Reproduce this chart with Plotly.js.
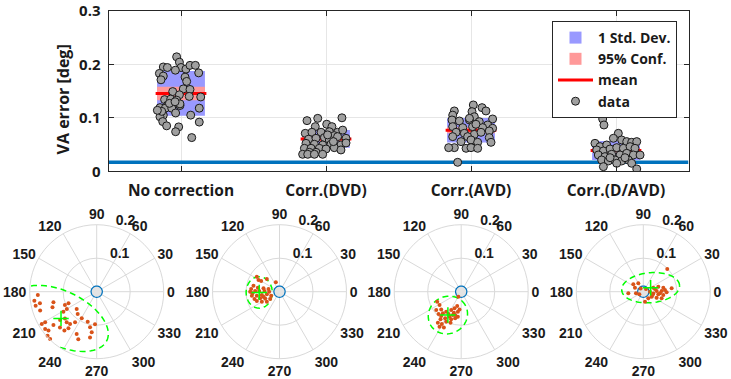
<!DOCTYPE html>
<html><head><meta charset="utf-8">
<script src="https://cdn.plot.ly/plotly-3.0.1.min.js"></script>
<style>html,body{margin:0;padding:0;background:#fff}</style>
</head><body><div id="chart" style="width:731px;height:379px"></div>
<script>
// ---------- top panel data ----------
const categories = ['No correction','Corr.(DVD)','Corr.(AVD)','Corr.(D/AVD)'];
const yTickVals = [0, 0.1, 0.2, 0.3];
const yTickText = ['0','0.1','0.2','0.3'];
const meanVals = [0.1455, 0.0605, 0.0768, 0.0390];
const stdVals  = [0.0418, 0.0165, 0.0230, 0.0178];
const confVals = [0.0125, 0.0045, 0.0055, 0.0045];
const threshold = 0.0168;

const vals1 = [0.214,0.204,0.194,0.195,0.194,0.189,0.191,0.198,0.198,0.184,0.183,0.178,0.171,0.176,0.168,0.154,0.153,0.149,0.143,0.140,0.139,0.134,0.135,0.133,0.124,0.123,0.123,0.119,0.118,0.118,0.126,0.118,0.105,0.109,0.105,0.102,0.093,0.085,0.083,0.074,0.092,0.063,0.127,0.130,0.112,0.114];
const jit1  = [-0.030,-0.011,0.000,-0.122,-0.094,-0.039,0.034,0.062,0.099,0.122,-0.149,-0.122,-0.138,0.028,0.039,0.016,0.062,-0.057,-0.011,0.057,0.136,-0.113,-0.071,-0.030,-0.092,-0.057,-0.007,-0.145,-0.108,-0.064,-0.007,0.126,-0.122,-0.037,0.067,-0.145,-0.126,-0.099,-0.016,-0.037,0.126,0.074,-0.080,-0.041,-0.133,-0.163];

const vals2 = [0.0947,0.099,0.100,0.0835,0.088,0.0835,0.071,0.073,0.073,0.074,0.073,0.077,0.0667,0.063,0.060,0.0617,0.0586,0.0648,0.0617,0.0523,0.0505,0.0492,0.0505,0.0492,0.043,0.043,0.043,0.0442,0.0399,0.0355,0.0355,0.0417,0.0318,0.0318,0.0318,0.0318,0.053,0.0555,0.068];
const jit2  = [-0.131,-0.057,0.110,-0.074,0.005,0.041,-0.143,-0.097,-0.034,0.023,0.080,0.115,0.057,-0.011,-0.120,-0.069,0.023,0.080,0.138,-0.138,-0.080,-0.023,0.034,0.103,-0.149,-0.103,-0.046,0.057,0.103,-0.115,-0.069,0.000,-0.161,-0.126,-0.080,-0.023,0.138,0.051,0.011];

const vals3 = [0.1128,0.105,0.124,0.1115,0.119,0.1128,0.102,0.0978,0.096,0.094,0.096,0.0928,0.0866,0.0835,0.0816,0.0835,0.0816,0.0804,0.0729,0.071,0.069,0.0729,0.0754,0.0648,0.0648,0.0586,0.063,0.0542,0.0542,0.0555,0.0442,0.0442,0.043,0.0442,0.043,0.0168,0.099,0.0879];
const jit3  = [-0.115,-0.126,0.016,0.007,0.076,0.103,0.023,0.149,-0.131,-0.080,-0.011,0.057,0.115,-0.126,-0.057,0.011,0.080,0.149,-0.103,-0.046,0.023,0.069,0.126,-0.126,-0.023,0.000,0.126,0.138,0.046,-0.069,-0.115,-0.154,-0.034,0.000,0.046,-0.092,-0.011,0.034];

const vals4 = [0.0978,0.0866,0.0523,0.0461,0.0492,0.071,0.0617,0.0586,0.0555,0.0542,0.0555,0.0399,0.038,0.0417,0.0442,0.043,0.0461,0.043,0.0305,0.0274,0.0318,0.0305,0.0336,0.0305,0.0305,0.0212,0.0193,0.0212,0.0193,0.0212,0.0087,0.015,0.015,0.0044,0.0255,0.0255];
const jit4  = [-0.092,-0.083,-0.145,-0.110,-0.064,0.016,-0.018,0.039,0.074,0.108,0.143,-0.133,-0.087,-0.041,0.005,0.051,0.097,0.131,-0.122,-0.076,-0.030,0.028,0.074,0.120,0.166,-0.099,-0.053,-0.007,0.039,0.085,-0.087,0.005,0.108,0.143,-0.041,0.062];

// ---------- polar panels data ----------
const angTickVals = [0,30,60,90,120,150,180,210,240,270,300,330];
const angTickText = ['0','30','60','90','120','150','180','210','240','270','300','330'];
const radTickVals = [0.1, 0.2];
const radTickText = ['0.1','0.2'];

const polR1 = [0.176,0.188,0.187,0.173,0.178,0.133,0.140,0.103,0.091,0.103,0.116,0.079,0.0875,0.091,0.124,0.138,0.128,0.125,0.112,0.138,0.153,0.163,0.179,0.190,0.190,0.185,0.197,0.198,0.151,0.140,0.152,0.108,0.122,0.138,0.097,0.0935];
const polT1 = [183.2,188.2,192.9,191.6,198.5,193.8,199.5,202.8,202.4,210,211,220.9,229.6,240.6,220.1,217.7,225.6,230.5,234.8,232.3,224.2,217.6,210.7,210.4,215.9,218.9,221.9,225.4,230.3,244.7,248.8,259.4,263,261.7,267,253.3];
const polR2 = [0.0812,0.0633,0.0535,0.030,0.0797,0.085,0.0658,0.0488,0.0338,0.0876,0.0727,0.0607,0.0448,0.0308,0.0834,0.0687,0.0537,0.0386,0.0276,0.0778,0.061,0.0472,0.0354,0.0732,0.0606,0.0482,0.0717,0.0807,0.05];
const polT2 = [146.5,149.8,135,111.4,167,174.6,169.5,168.2,166.4,180,178.4,178.1,177.5,180,188.2,190,190.7,191.9,205.6,196.3,199,205,218.2,202.4,209.5,218.3,151,183.5,197.4];
const polR3 = [0.0776,0.0759,0.0797,0.0925,0.095,0.0847,0.0746,0.0623,0.0536,0.0444,0.0605,0.074,0.0823,0.0928,0.1031,0.1158,0.1124,0.1001,0.0878,0.0816,0.0753,0.1184,0.1229,0.0766,0.0664,0.053,0.094,0.0979,0.0719,0.017];
const polT3 = [202.6,211.6,221.5,216.3,224.6,229.8,233.1,241.4,248.2,254.4,260.5,250.3,245,239,233.2,233,239.1,243.4,250.1,257.3,262.4,244.1,238.2,240.4,250.7,264.6,230.6,251,255.6,240];
const polR4 = [0.0985,0.037,0.029,0.0276,0.045,0.0127,0.0113,0.0321,0.0472,0.0609,0.0852,0.0399,0.0548,0.0697,0.0303,0.0455,0.0605,0.029,0.0437,0.0582,0.0249,0.0303,0.0143,0.0224,0.0357,0.05,0.0649,0.0199,0.0296];
const polT4 = [43.4,143.7,121,154.4,186.3,128.7,45,21.8,18.4,11.3,6.7,2.9,2.1,-1.6,-9.5,-10.1,-9.5,-31,-24.2,-20,-53.1,-80.5,213.7,192.8,12.9,-5.7,4.4,0,-19.7];

const meanR  = [0.133, 0.0606, 0.0802, 0.0249];
const meanT  = [216.8, 182, 240.3, 28.6];
const ellA   = [0.152, 0.047, 0.0597, 0.0866];
const ellB   = [0.081, 0.039, 0.0552, 0.0448];
const ellRot = [-26, 90, 30, 5];

// ---------- styles ----------
const FONT = 'Open Sans, DejaVu Sans, sans-serif';
const PFONT = 'Liberation Sans, Arial, sans-serif';
const TXT = '#1a1a1a';
const AX = '#262626';
const BOXW = 0.33;
const B = s => '<b>' + s + '</b>';

const traces = [];
const xs = categories.map((c,i)=>i+1);

traces.push({type:'bar', x: xs, base: meanVals.map((m,i)=>m-stdVals[i]), y: stdVals.map(s=>2*s),
  width: BOXW, marker:{color:'#9999FF', line:{width:0}}, name: B('1 Std. Dev.'), xaxis:'x', yaxis:'y', hoverinfo:'skip'});
traces.push({type:'bar', x: xs, base: meanVals.map((m,i)=>m-confVals[i]), y: confVals.map(s=>2*s),
  width: BOXW, marker:{color:'#FF9999', line:{width:0}}, name: B('95% Conf.'), xaxis:'x', yaxis:'y', hoverinfo:'skip'});

const mx = [], my = [];
meanVals.forEach((m,i)=>{ mx.push(xs[i]-BOXW/2-0.01, xs[i]+BOXW/2+0.01, null); my.push(m, m, null); });
traces.push({type:'scatter', mode:'lines', x: mx, y: my, line:{color:'#FF0000', width:3}, name: B('mean'), xaxis:'x', yaxis:'y'});

traces.push({type:'scatter', mode:'lines', x:[0.5, 4.5], y:[threshold, threshold], line:{color:'#0072BD', width:3.5}, showlegend:false, xaxis:'x', yaxis:'y'});

const allVals = [vals1, vals2, vals3, vals4];
const allJit = [jit1, jit2, jit3, jit4];
allVals.forEach((v,i)=>{
  traces.push({type:'scatter', mode:'markers', x: allJit[i].map(j=>xs[i]+j), y: v,
    marker:{size:8, color:'#A0A0A0', line:{color:'#1a1a1a', width:1}},
    name: B('data'), legendgroup:'data', showlegend: i===0, xaxis:'x', yaxis:'y'});
});

// ---------- polar ----------
const polR = [polR1, polR2, polR3, polR4];
const polT = [polT1, polT2, polT3, polT4];
const subs = ['polar','polar2','polar3','polar4'];
const circR = [], circT = [];
for (let t = 0; t <= 360; t += 10) { circR.push(threshold); circT.push(t); }

subs.forEach((sp,i)=>{
  traces.push({type:'scatterpolar', subplot: sp, mode:'lines', r: circR, theta: circT, fill:'toself',
    fillcolor:'#E3E3E3', line:{color:'#0072BD', width:1.2}, showlegend:false});
  const d2r = Math.PI/180;
  const cx = meanR[i]*Math.cos(meanT[i]*d2r), cy = meanR[i]*Math.sin(meanT[i]*d2r);
  const ro = ellRot[i]*d2r;
  const er = [], et = [];
  for (let t = 0; t <= 360; t += 4) {
    const ex = ellA[i]*Math.cos(t*d2r), ey = ellB[i]*Math.sin(t*d2r);
    const x = cx + ex*Math.cos(ro) - ey*Math.sin(ro);
    const y = cy + ex*Math.sin(ro) + ey*Math.cos(ro);
    er.push(Math.hypot(x,y)); et.push(Math.atan2(y,x)/d2r);
  }
  traces.push({type:'scatterpolar', subplot: sp, mode:'lines', r: er, theta: et,
    line:{color:'#00FF00', width:1.5, dash:'6px,4px'}, showlegend:false});
  traces.push({type:'scatterpolar', subplot: sp, mode:'markers', r: polR[i], theta: polT[i],
    marker:{size:4, color:'#D95319'}, showlegend:false});
  traces.push({type:'scatterpolar', subplot: sp, mode:'markers', r:[meanR[i]], theta:[meanT[i]],
    marker:{symbol:'cross-thin', size:11, line:{color:'#00FF00', width:1.5}, color:'#00FF00'}, showlegend:false});
});

const W = 731, H = 379;
const pcx = [96.7, 279.5, 461.2, 643.3], pcy = 291.7, PR = 67;
const polarLayout = (i)=>({
  domain:{x:[(pcx[i]-PR)/W,(pcx[i]+PR)/W], y:[(H-pcy-PR)/H,(H-pcy+PR)/H]},
  bgcolor:'#ffffff',
  angularaxis:{tickmode:'array', tickvals: angTickVals, ticktext: angTickText.map(B), ticks:'', showline:true,
    linecolor:'#D9D9D9', linewidth:1, gridcolor:'#D9D9D9', gridwidth:1,
    tickfont:{family:PFONT, size:14, color:TXT}},
  radialaxis:{range:[0,0.2], tickmode:'array', tickvals: radTickVals, ticktext: radTickText.map(t=>B(t)+'<br> '), showline:false,
    ticks:'', gridcolor:'#D9D9D9', gridwidth:1, angle:80, tickangle:80, side:'clockwise',
    tickfont:{family:PFONT, size:14, color:TXT}}
});

const layout = {
  width: W, height: H, margin:{l:0,r:0,t:0,b:0}, paper_bgcolor:'#fff', plot_bgcolor:'#fff',
  font:{family:FONT, color:TXT},
  barmode:'overlay', showlegend:true,
  xaxis:{domain:[108.5/W, 688.5/W], range:[0.5,4.5], tickmode:'array', tickvals: xs, ticktext: categories.map(B),
    showline:true, mirror:'ticks', linecolor:AX, linewidth:1, ticks:'inside', ticklen:5, tickcolor:AX,
    showgrid:true, gridcolor:'#E6E6E6', zeroline:false, ticklabelstandoff:5, ticklabeloverflow:'allow',
    tickfont:{family:FONT, size:15.5, color:TXT}},
  yaxis:{domain:[1-171.3/H, 1-10.8/H], range:[0,0.3], tickmode:'array', tickvals: yTickVals, ticktext: yTickText.map(B),
    showline:true, mirror:'ticks', linecolor:AX, linewidth:1, ticks:'inside', ticklen:5, tickcolor:AX,
    showgrid:true, gridcolor:'#E6E6E6', zeroline:false, ticklabelstandoff:4, ticklabeloverflow:'allow',
    tickfont:{family:FONT, size:15, color:TXT},
    title:{text: B('VA error [deg]') + '&nbsp;&nbsp;&nbsp;&nbsp;', font:{family:FONT, size:16, color:TXT}, standoff:5}},
  legend:{x:677/W, xanchor:'right', y:1-21/H, yanchor:'top', bgcolor:'#fff', bordercolor:AX, borderwidth:1,
    font:{family:FONT, size:14, color:TXT}, itemwidth:35, tracegroupgap:0},
  polar: polarLayout(0), polar2: polarLayout(1), polar3: polarLayout(2), polar4: polarLayout(3)
};

Plotly.newPlot('chart', traces, layout, {staticPlot:true, displayModeBar:false});
</script></body></html>
